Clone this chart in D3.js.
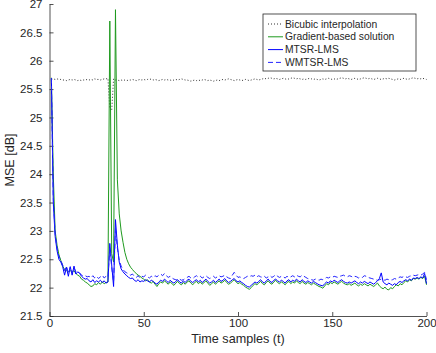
<!DOCTYPE html>
<html>
<head>
<meta charset="utf-8">
<script src="https://d3js.org/d3.v7.min.js"></script>
<style>
  body { margin: 0; background: #fff; }
  text { font-family: "Liberation Sans", Arial, Helvetica, sans-serif; fill: #262626; }
</style>
</head>
<body>
<div id="chart"></div>
<script>

// time axis 1..200
var samples = d3.range(1, 201);

var bicubic = [
  25.67, 25.68, 25.67, 25.68, 25.67, 25.67, 25.66, 25.66, 25.65, 25.66,
  25.67, 25.66, 25.67, 25.66, 25.65, 25.66, 25.65, 25.66, 25.66, 25.67,
  25.66, 25.67, 25.66, 25.68, 25.67, 25.67, 25.66, 25.67, 25.68, 25.68,
  25.69, 25.15, 25.12, 25.68, 25.66, 25.66, 25.65, 25.66, 25.65, 25.66,
  25.65, 25.66, 25.66, 25.67, 25.66, 25.65, 25.66, 25.67, 25.66, 25.67,
  25.66, 25.67, 25.68, 25.67, 25.66, 25.67, 25.66, 25.65, 25.66, 25.67,
  25.66, 25.67, 25.66, 25.66, 25.65, 25.66, 25.67, 25.66, 25.67, 25.68,
  25.67, 25.66, 25.66, 25.65, 25.64, 25.65, 25.66, 25.65, 25.66, 25.65,
  25.66, 25.67, 25.66, 25.65, 25.66, 25.65, 25.64, 25.65, 25.66, 25.65,
  25.66, 25.67, 25.66, 25.67, 25.68, 25.67, 25.66, 25.65, 25.66, 25.67,
  25.66, 25.65, 25.66, 25.67, 25.66, 25.65, 25.66, 25.67, 25.68, 25.67,
  25.66, 25.67, 25.68, 25.69, 25.68, 25.69, 25.70, 25.69, 25.68, 25.69,
  25.68, 25.67, 25.68, 25.69, 25.68, 25.67, 25.68, 25.69, 25.70, 25.69,
  25.68, 25.69, 25.68, 25.67, 25.68, 25.67, 25.68, 25.69, 25.68, 25.67,
  25.68, 25.67, 25.66, 25.67, 25.68, 25.67, 25.68, 25.69, 25.68, 25.67,
  25.68, 25.67, 25.68, 25.69, 25.70, 25.69, 25.68, 25.69, 25.68, 25.67,
  25.68, 25.69, 25.68, 25.67, 25.68, 25.69, 25.70, 25.69, 25.68, 25.69,
  25.68, 25.67, 25.68, 25.69, 25.68, 25.67, 25.68, 25.69, 25.68, 25.69,
  25.68, 25.67, 25.66, 25.67, 25.68, 25.67, 25.68, 25.69, 25.68, 25.67,
  25.68, 25.69, 25.70, 25.69, 25.68, 25.69, 25.68, 25.69, 25.68, 25.67
];

var gradient = [
  25.70, 24.00, 23.00, 22.75, 22.58, 22.48, 22.38, 22.32, 22.30, 22.28,
  22.30, 22.27, 22.30, 22.25, 22.22, 22.20, 22.15, 22.13, 22.10, 22.08,
  22.05, 22.02, 22.03, 22.07, 22.05, 22.09, 22.06, 22.10, 22.07, 22.09,
  22.10, 26.70, 22.60, 22.45, 26.90, 23.90, 23.30, 23.00, 22.80, 22.62,
  22.50, 22.42, 22.36, 22.32, 22.28, 22.25, 22.22, 22.20, 22.17, 22.15,
  22.12, 22.14, 22.10, 22.08, 22.11, 22.06, 22.02, 22.07, 22.10, 22.08,
  22.12, 22.09, 22.06, 22.10, 22.07, 22.04, 22.08, 22.11, 22.07, 22.05,
  22.09, 22.06, 22.10, 22.12, 22.08, 22.05, 22.09, 22.11, 22.07, 22.10,
  22.06, 22.09, 22.12, 22.08, 22.04, 22.07, 22.10, 22.06, 22.09, 22.12,
  22.08, 22.10, 22.13, 22.09, 22.06, 22.08, 22.11, 22.14, 22.10, 22.07,
  22.09, 22.06, 22.04, 22.01, 21.99, 21.97, 22.00, 22.04, 22.07, 22.05,
  22.08, 22.11, 22.07, 22.05, 22.09, 22.12, 22.08, 22.06, 22.10, 22.13,
  22.09, 22.07, 22.10, 22.08, 22.05, 22.09, 22.11, 22.07, 22.10, 22.08,
  22.12, 22.09, 22.07, 22.11, 22.08, 22.06, 22.09, 22.07, 22.05, 22.08,
  22.06, 22.04, 22.02, 22.01, 21.99, 22.03, 22.07, 22.05, 22.09, 22.07,
  22.10, 22.08, 22.06, 22.09, 22.11, 22.08, 22.06, 22.05, 22.07, 22.04,
  22.06, 22.08, 22.05, 22.03, 22.06, 22.04, 22.07, 22.05, 22.03, 22.06,
  22.04, 22.02, 22.05, 22.08, 22.03, 22.00, 21.98, 22.01, 21.97, 21.96,
  22.00, 21.98, 22.02, 22.05, 22.03, 22.07, 22.05, 22.09, 22.12, 22.10,
  22.14, 22.12, 22.16, 22.15, 22.17, 22.15, 22.18, 22.16, 22.20, 22.05
];

var mtsr = [
  25.69, 23.50, 22.90, 22.65, 22.50, 22.45, 22.37, 22.22, 22.36, 22.20,
  22.37, 22.22, 22.38, 22.24, 22.28, 22.25, 22.20, 22.17, 22.15, 22.16,
  22.12, 22.10, 22.14, 22.09, 22.12, 22.10, 22.13, 22.09, 22.12, 22.08,
  22.10, 22.78, 22.40, 22.02, 23.20, 22.75, 22.45, 22.33, 22.28, 22.24,
  22.21, 22.18, 22.16, 22.17, 22.13, 22.11, 22.14, 22.10, 22.12, 22.11,
  22.14, 22.12, 22.10, 22.13, 22.11, 22.08, 22.06, 22.10, 22.13, 22.11,
  22.15, 22.12, 22.09, 22.13, 22.10, 22.08, 22.11, 22.14, 22.10, 22.08,
  22.12, 22.09, 22.13, 22.15, 22.11, 22.09, 22.12, 22.14, 22.10, 22.13,
  22.09, 22.12, 22.15, 22.11, 22.08, 22.10, 22.13, 22.09, 22.12, 22.15,
  22.11, 22.13, 22.16, 22.12, 22.09, 22.11, 22.14, 22.16, 22.12, 22.10,
  22.12, 22.09, 22.07, 22.04, 22.02, 22.01, 22.04, 22.07, 22.10, 22.08,
  22.11, 22.14, 22.10, 22.08, 22.12, 22.15, 22.11, 22.09, 22.13, 22.15,
  22.12, 22.10, 22.13, 22.11, 22.08, 22.12, 22.14, 22.10, 22.13, 22.11,
  22.15, 22.12, 22.10, 22.14, 22.11, 22.09, 22.12, 22.10, 22.08, 22.11,
  22.09, 22.07, 22.05, 22.04, 22.03, 22.07, 22.10, 22.08, 22.12, 22.10,
  22.13, 22.11, 22.09, 22.12, 22.14, 22.11, 22.09, 22.08, 22.10, 22.08,
  22.10, 22.12, 22.09, 22.07, 22.10, 22.08, 22.11, 22.09, 22.07, 22.10,
  22.08, 22.06, 22.09, 22.12, 22.16, 22.26, 22.10, 22.07, 22.05, 22.08,
  22.06, 22.04, 22.07, 22.05, 22.09, 22.11, 22.09, 22.12, 22.14, 22.12,
  22.15, 22.13, 22.17, 22.16, 22.18, 22.16, 22.19, 22.17, 22.25, 22.07
];

var wmtsr = [
  25.69, 23.60, 22.95, 22.70, 22.55, 22.48, 22.40, 22.30, 22.38, 22.25,
  22.36, 22.26, 22.35, 22.28, 22.27, 22.26, 22.22, 22.20, 22.21, 22.19,
  22.20, 22.17, 22.21, 22.17, 22.20, 22.16, 22.19, 22.22, 22.17, 22.20,
  22.18, 22.70, 22.35, 22.10, 23.05, 22.70, 22.48, 22.38, 22.32, 22.28,
  22.26, 22.24, 22.22, 22.24, 22.20, 22.18, 22.21, 22.17, 22.20, 22.19,
  22.22, 22.19, 22.17, 22.20, 22.18, 22.21, 22.19, 22.22, 22.24, 22.21,
  22.25, 22.21, 22.18, 22.20, 22.17, 22.15, 22.14, 22.13, 22.15, 22.13,
  22.14, 22.16, 22.18, 22.20, 22.17, 22.16, 22.19, 22.21, 22.18, 22.20,
  22.17, 22.19, 22.21, 22.18, 22.16, 22.18, 22.20, 22.17, 22.19, 22.21,
  22.19, 22.20, 22.22, 22.19, 22.17, 22.16, 22.22, 22.27, 22.22, 22.18,
  22.19, 22.17, 22.16, 22.18, 22.20, 22.19, 22.21, 22.20, 22.22, 22.19,
  22.21, 22.19, 22.18, 22.20, 22.17, 22.19, 22.21, 22.18, 22.20, 22.23,
  22.20, 22.18, 22.20, 22.19, 22.17, 22.20, 22.18, 22.19, 22.21, 22.19,
  22.22, 22.20, 22.19, 22.22, 22.20, 22.18, 22.16, 22.15, 22.14, 22.13,
  22.15, 22.14, 22.13, 22.15, 22.14, 22.16, 22.18, 22.17, 22.19, 22.18,
  22.20, 22.19, 22.18, 22.20, 22.21, 22.22, 22.20, 22.19, 22.21, 22.20,
  22.18, 22.20, 22.19, 22.17, 22.19, 22.18, 22.21, 22.20, 22.18, 22.17,
  22.16, 22.15, 22.14, 22.13, 22.14, 22.15, 22.14, 22.13, 22.15, 22.14,
  22.13, 22.14, 22.16, 22.15, 22.17, 22.19, 22.18, 22.20, 22.19, 22.18,
  22.20, 22.21, 22.22, 22.21, 22.22, 22.23, 22.22, 22.24, 22.27, 22.14
];

var xTicks = [0, 50, 100, 150, 200];
var yTicks = [21.5, 22, 22.5, 23, 23.5, 24, 24.5, 25, 25.5, 26, 26.5, 27];

var series = [
  {name: "Bicubic interpolation",   values: bicubic,  color: "#1a1a1a", dash: "1,2",  width: 0.9},
  {name: "Gradient-based solution", values: gradient, color: "#1f9a1f", dash: null,   width: 1},
  {name: "MTSR-LMS",                values: mtsr,     color: "#0000ff", dash: null,   width: 1},
  {name: "WMTSR-LMS",               values: wmtsr,    color: "#2323ff", dash: "5,3",  width: 1}
];

var margin = {top: 4, right: 9.5, bottom: 37, left: 49.5};
var W = 436, H = 353;
var width = W - margin.left - margin.right,
    height = H - margin.top - margin.bottom;

var svg = d3.select("#chart").append("svg")
    .attr("width", W)
    .attr("height", H);

var g = svg.append("g")
    .attr("transform", "translate(" + margin.left + "," + margin.top + ")");

var x = d3.scaleLinear().domain([0, 200]).range([0, width]);
var y = d3.scaleLinear().domain([21.5, 27]).range([height, 0]);

// axes (MATLAB style, ticks inward, box off)
var xAxis = g.append("g")
    .attr("transform", "translate(0," + height + ")")
    .call(d3.axisBottom(x).tickValues(xTicks).tickSize(-4).tickPadding(3).tickSizeOuter(0));
var yAxis = g.append("g")
    .call(d3.axisLeft(y).tickValues(yTicks).tickSize(-4).tickPadding(7).tickSizeOuter(0)
      .tickFormat(function(d) { return d3.format("")(d); }));

[xAxis, yAxis].forEach(function(a) {
  a.select(".domain").attr("stroke", "#262626").attr("stroke-width", 0.8);
  a.selectAll(".tick line").attr("stroke", "#262626").attr("stroke-width", 0.8);
  a.selectAll(".tick text").style("font-size", "11.5px").attr("fill", "#262626")
    .style("font-family", "'Liberation Sans', Arial, sans-serif");
});

// lines
var line = d3.line()
    .x(function(d, i) { return x(samples[i]); })
    .y(function(d) { return y(d); });

g.selectAll("path.series")
    .data(series)
    .enter()
    .append("path")
    .attr("class", "series")
    .attr("fill", "none")
    .attr("stroke", function(d) { return d.color; })
    .attr("stroke-width", function(d) { return d.width; })
    .attr("stroke-dasharray", function(d) { return d.dash; })
    .attr("d", function(d) { return line(d.values); });

// axis titles
svg.append("text")
    .attr("x", margin.left + width / 2)
    .attr("y", 343)
    .attr("text-anchor", "middle")
    .style("font-size", "12.6px")
    .text("Time samples (t)");

svg.append("text")
    .attr("transform", "translate(14," + (margin.top + height / 2) + ") rotate(-90)")
    .attr("text-anchor", "middle")
    .style("font-size", "12.6px")
    .text("MSE [dB]");

// legend
var lg = svg.append("g").attr("transform", "translate(263,14)");
lg.append("rect")
    .attr("width", 153).attr("height", 57)
    .attr("fill", "#fff")
    .attr("stroke", "#262626")
    .attr("stroke-width", 0.8);

var items = lg.selectAll("g.item")
    .data(series)
    .enter()
    .append("g")
    .attr("class", "item")
    .attr("transform", function(d, i) { return "translate(0," + (10 + i * 12.8) + ")"; });

items.append("line")
    .attr("x1", 5).attr("x2", 20)
    .attr("stroke", function(d) { return d.color; })
    .attr("stroke-width", function(d) { return d.width; })
    .attr("stroke-dasharray", function(d) { return d.dash; });

items.append("text")
    .attr("x", 22)
    .attr("dy", "0.35em")
    .style("font-size", "10.3px")
    .text(function(d) { return d.name; });

</script>
</body>
</html>
